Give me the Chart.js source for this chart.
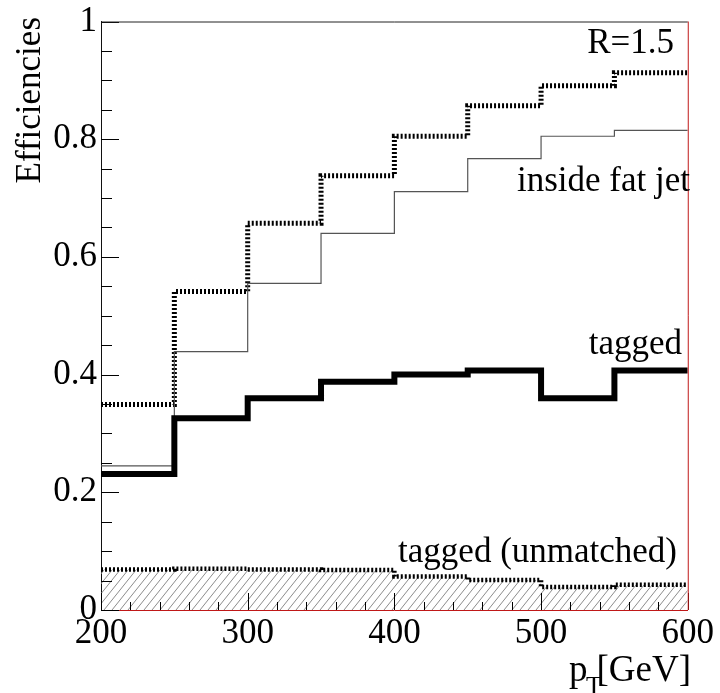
<!DOCTYPE html>
<html>
<head>
<meta charset="utf-8">
<script src="https://cdn.jsdelivr.net/npm/chart.js@4.4.1/dist/chart.umd.min.js"></script>
<style>
  html, body { margin: 0; padding: 0; background: #fff; }
  #wrap { width: 720px; height: 693px; }
</style>
</head>
<body>
<div id="wrap"><canvas id="c" width="720" height="693"></canvas></div>
<script>
// ---- data ----
const binEdges = [200, 250, 300, 350, 400, 450, 500, 550, 600];
const matchedEff = [0.349, 0.541, 0.657, 0.738, 0.805, 0.857, 0.891, 0.913];
const insideFatJet = [0.245, 0.439, 0.555, 0.640, 0.711, 0.767, 0.805, 0.815];
const taggedEff = [0.231, 0.326, 0.360, 0.388, 0.400, 0.407, 0.360, 0.407];
const taggedUnmatched = [0.069, 0.070, 0.069, 0.068, 0.057, 0.051, 0.039, 0.043];
const yTickLabels = ['0', '0.2', '0.4', '0.6', '0.8', '1'];
const xTickLabels = ['200', '300', '400', '500', '600'];
const annotations = [
  { text: 'R=1.5', x: 674, y: 53 },
  { text: 'inside fat jet', x: 690, y: 191 },
  { text: 'tagged', x: 682, y: 354 },
  { text: 'tagged (unmatched)', x: 677, y: 562 }
];

function histPoints(vals) {
  const pts = vals.map((v, i) => ({ x: binEdges[i], y: v }));
  pts.push({ x: binEdges[binEdges.length - 1], y: vals[vals.length - 1] });
  return pts;
}

const canvas = document.getElementById('c');
const ctx0 = canvas.getContext('2d');

function hatchPattern() {
  const w = 8, h = 10;
  const c = document.createElement('canvas');
  c.width = w; c.height = h;
  const g = c.getContext('2d');
  g.strokeStyle = '#8c8c8c';
  g.lineWidth = 1;
  g.beginPath();
  g.moveTo(0, h); g.lineTo(w, 0);
  g.moveTo(-w, h); g.lineTo(0, 0);
  g.moveTo(w, h); g.lineTo(2 * w, 0);
  g.stroke();
  return ctx0.createPattern(c, 'repeat');
}

const SERIF = '"Liberation Serif", "DejaVu Serif", serif';

const isMajorY = v => Math.abs(v * 5 - Math.round(v * 5)) < 1e-6;
const isMajorX = v => Math.abs(v / 100 - Math.round(v / 100)) < 1e-6;

const decorPlugin = {
  id: 'decor',
  afterDatasetsDraw(chart) {
    const ctx = chart.ctx;
    const { left, right, top, bottom } = chart.chartArea;
    const xs = chart.scales.x, ys = chart.scales.y;
    ctx.save();
    // inward ticks
    ctx.strokeStyle = '#000';
    ctx.lineWidth = 1;
    ctx.beginPath();
    ys.ticks.forEach(t => {
      const py = Math.round(ys.getPixelForValue(t.value)) + 0.5;
      const len = isMajorY(t.value) ? 18 : 11;
      ctx.moveTo(left, py); ctx.lineTo(left + len, py);
    });
    xs.ticks.forEach(t => {
      const px = Math.round(xs.getPixelForValue(t.value)) + 0.5;
      const len = isMajorX(t.value) ? 17 : 8;
      ctx.moveTo(px, bottom); ctx.lineTo(px, bottom - len);
    });
    ctx.stroke();
    // frame top (black) and right (red)
    ctx.beginPath();
    ctx.strokeStyle = '#222';
    ctx.moveTo(left, top + 0.5); ctx.lineTo(right, top + 0.5);
    ctx.stroke();
    ctx.beginPath();
    ctx.strokeStyle = '#c01818';
    ctx.moveTo(right + 0.5, top); ctx.lineTo(right + 0.5, bottom);
    ctx.stroke();
    // texts
    ctx.fillStyle = '#000';
    ctx.font = '35px ' + SERIF;
    ctx.textBaseline = 'alphabetic';
    ctx.textAlign = 'right';
    annotations.forEach(a => ctx.fillText(a.text, a.x, a.y));
    // y title
    ctx.save();
    ctx.translate(40, 17);
    ctx.rotate(-Math.PI / 2);
    ctx.textAlign = 'right';
    ctx.fillText('Efficiencies', 0, 0);
    ctx.restore();
    // x title p_T[GeV]
    ctx.textAlign = 'left';
    ctx.font = '37px ' + SERIF;
    ctx.fillText('p', 569, 681);
    ctx.textAlign = 'right';
    ctx.fillText('[GeV]', 691, 681);
    ctx.textAlign = 'left';
    ctx.font = '26px ' + SERIF;
    ctx.fillText('T', 586, 694);
    ctx.restore();
  }
};

new Chart(canvas, {
  type: 'line',
  data: {
    datasets: [
      {
        label: 'tagged',
        data: histPoints(taggedEff),
        stepped: true,
        borderColor: '#000',
        borderWidth: 6,
        borderJoinStyle: 'miter',
        pointRadius: 0,
        fill: false
      },
      {
        label: 'inside fat jet',
        data: histPoints(insideFatJet),
        stepped: true,
        borderColor: '#555',
        borderWidth: 1.2,
        pointRadius: 0,
        fill: false
      },
      {
        label: 'matched',
        data: histPoints(matchedEff),
        stepped: true,
        borderColor: '#000',
        borderWidth: 5,
        borderDash: [2, 2],
        pointRadius: 0,
        fill: false
      },
      {
        label: 'tagged (unmatched)',
        data: histPoints(taggedUnmatched),
        stepped: true,
        borderColor: '#000',
        borderWidth: 4.5,
        borderDash: [2, 2],
        pointRadius: 0,
        fill: 'origin',
        backgroundColor: hatchPattern()
      }
    ]
  },
  options: {
    responsive: false,
    animation: false,
    events: [],
    layout: { padding: { left: 0, top: 18, right: 29, bottom: 0 } },
    plugins: { legend: { display: false }, tooltip: { enabled: false } },
    scales: {
      x: {
        type: 'linear',
        min: 200, max: 600,
        afterFit: s => { s.height = 83; },
        ticks: {
          stepSize: 20,
          autoSkip: false,
          maxRotation: 0,
          padding: 6,
          color: '#000',
          font: { family: SERIF, size: 35, lineHeight: 1 },
          callback: v => isMajorX(v) ? xTickLabels[Math.round((v - 200) / 100)] : ''
        },
        grid: { display: true, drawOnChartArea: false, drawTicks: false },
        border: { display: true, color: '#c01818', width: 1 }
      },
      y: {
        type: 'linear',
        min: 0, max: 1,
        afterFit: s => { s.width = 101; },
        ticks: {
          stepSize: 0.05,
          autoSkip: false,
          padding: 4,
          color: '#000',
          font: { family: SERIF, size: 35, lineHeight: 1 },
          callback: v => isMajorY(v) ? yTickLabels[Math.round(v * 5)] : ''
        },
        grid: { display: true, drawOnChartArea: false, drawTicks: false },
        border: { display: true, color: '#111', width: 1 }
      }
    }
  },
  plugins: [decorPlugin]
});
</script>
</body>
</html>
